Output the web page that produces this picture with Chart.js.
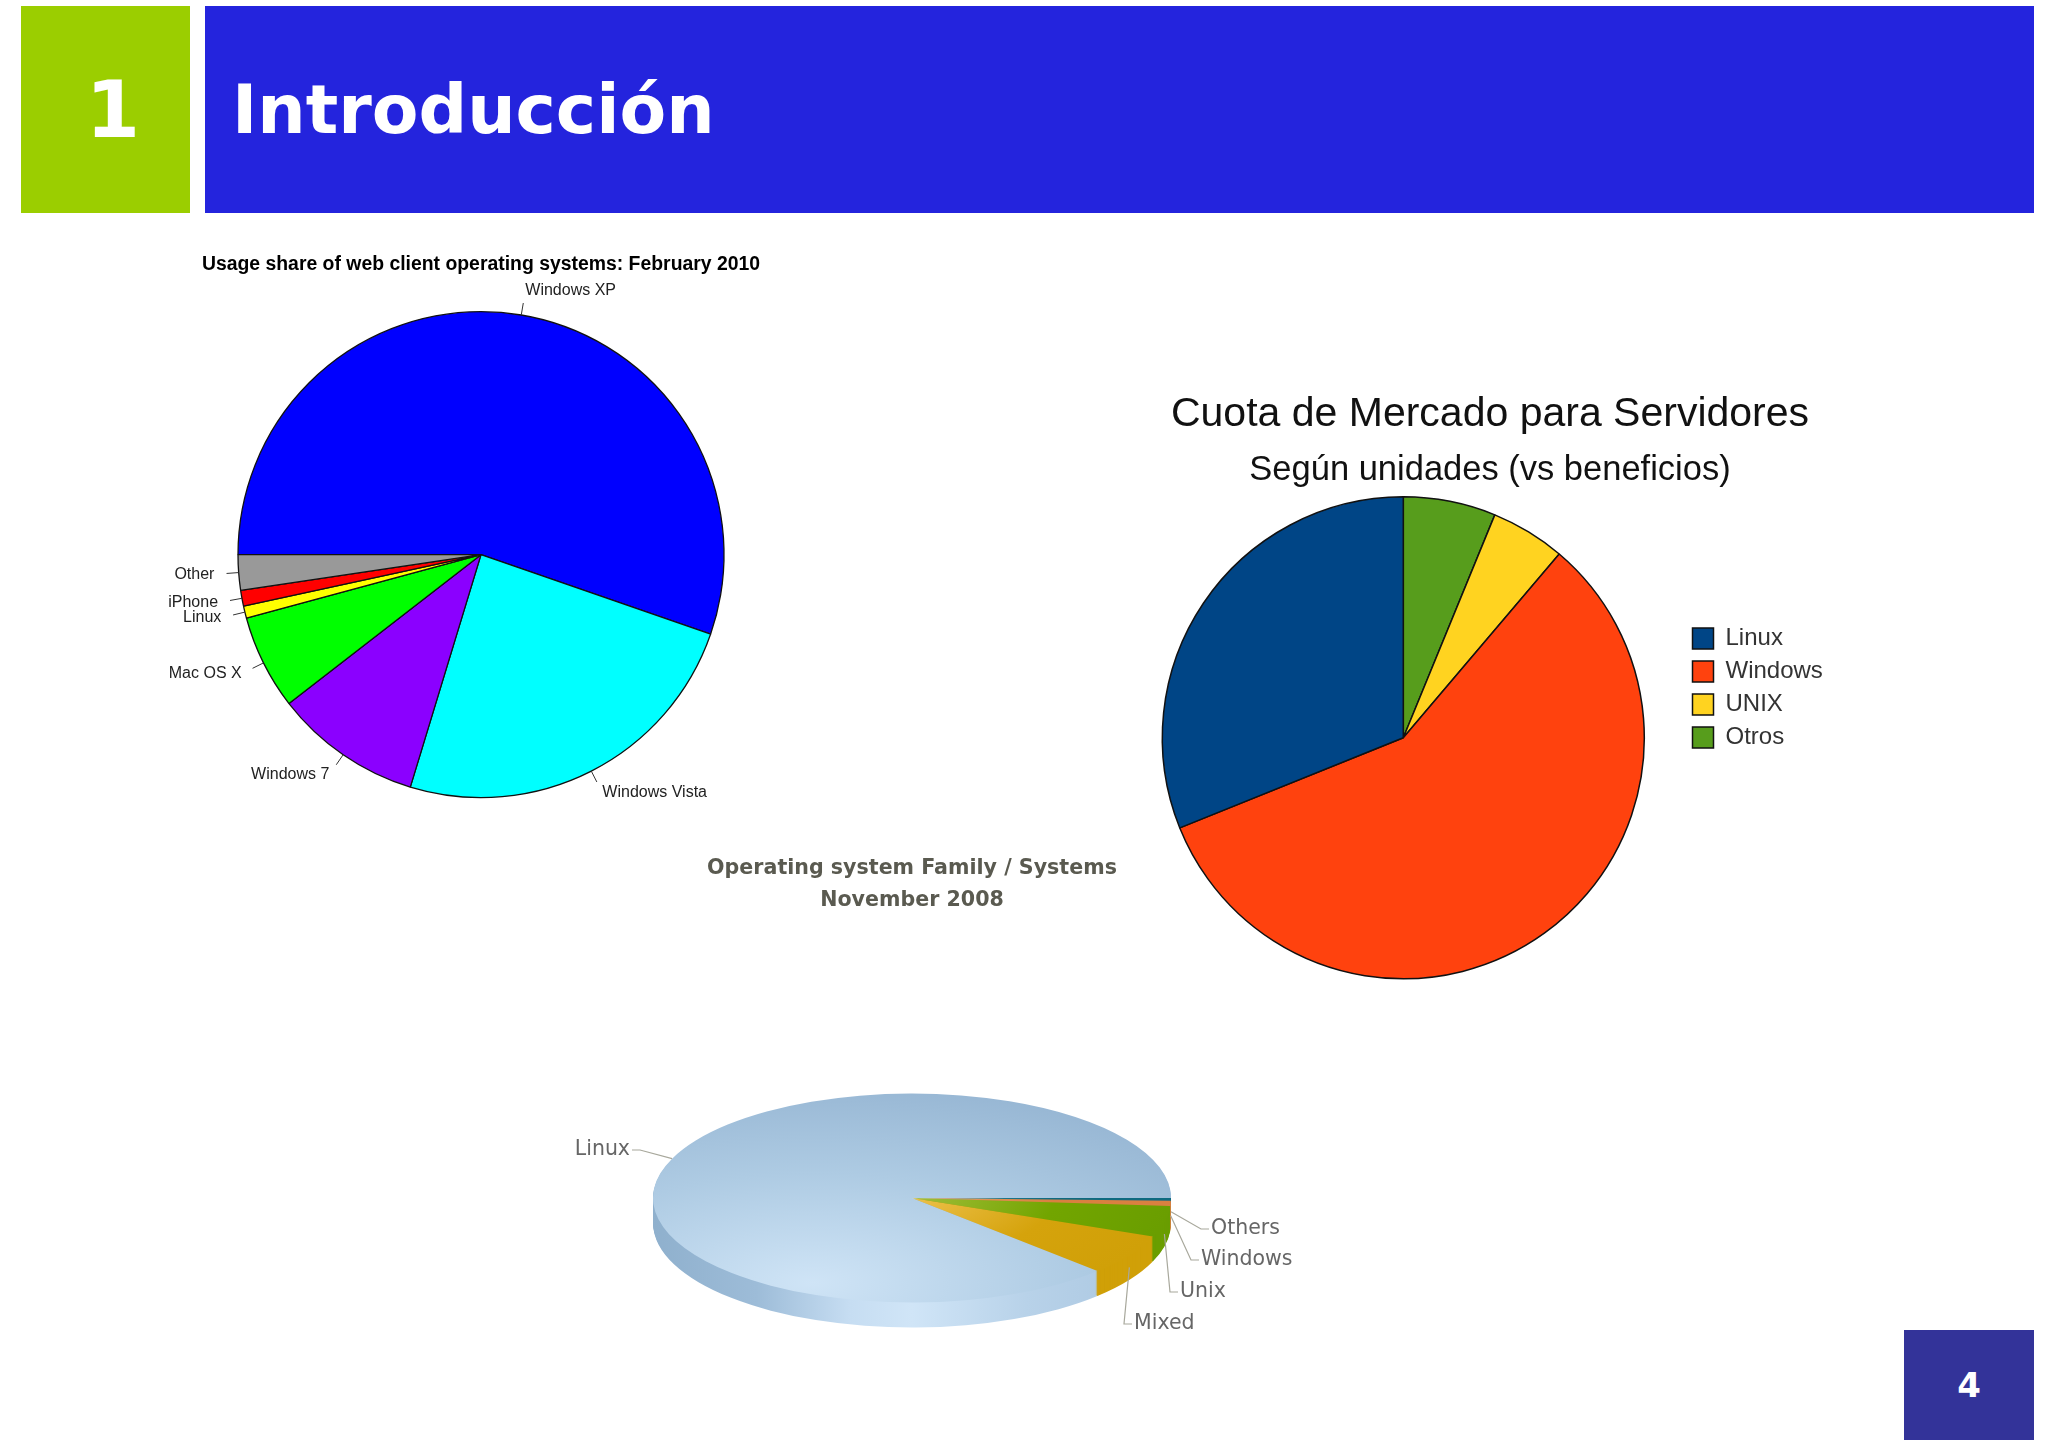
<!DOCTYPE html>
<html lang="es">
<head>
<meta charset="utf-8">
<title>Introducción</title>
<script src="https://cdn.jsdelivr.net/npm/chart.js@4"></script>
<style>
    html, body { margin: 0; padding: 0; background: #fff; overflow: hidden; }
    body { width: 2048px; height: 1447px; position: relative; font-family: "DejaVu Sans", sans-serif; }
    .block { position: absolute; color: #fff; font-weight: bold; display: flex; align-items: center; }
    #num { left: 21px; top: 6px; width: 169px; height: 207px; background: #9bce00; justify-content: center; font-size: 78px; }
    #num span { margin-left: 15px; }
    #band { left: 205px; top: 6px; width: 1829px; height: 207px; background: #2424dd; font-size: 68px; }
    #band span { margin-left: 27px; }
    #page { left: 1904px; top: 1330px; width: 130px; height: 110px; background: #333399; justify-content: center; font-size: 34px; }
    canvas { position: absolute; }
</style>
</head>
<body>
<div class="block" id="num"><span>1</span></div>
<div class="block" id="band"><span>Introducción</span></div>
<div class="block" id="page">4</div>
<canvas id="clients" width="680" height="580" style="left:141px;top:253px"></canvas>
<canvas id="servers" width="780" height="594" style="left:1100px;top:390px"></canvas>
<canvas id="families" width="802" height="487" style="left:511px;top:853px"></canvas>
<script>
// Usage share of web clients, clockwise from 9 o'clock
const clientLabels = ['Windows XP', 'Windows Vista', 'Windows 7', 'Mac OS X', 'Linux', 'iPhone', 'Other'];
const clientValues = [55.3, 24.4, 9.8, 6.3, 0.8, 1.05, 2.35];
const clientColors = ['#0000ff', '#00ffff', '#8b00ff', '#00ff00', '#ffff00', '#ff0000', '#999999'];

// Server market share, clockwise from 12 o'clock (legend shows it reversed)
const serverLabels = ['Otros', 'UNIX', 'Windows', 'Linux'];
const serverValues = [6.2, 5.0, 57.7, 31.1];
const serverColors = ['#579d1c', '#ffd320', '#ff420e', '#004586'];

// Operating system family, clockwise from 3 o'clock
const familyLabels = ['Others', 'Windows', 'Unix', 'Mixed', 'Linux'];
const familyValues = [0.4, 0.8, 4.8, 6.3, 87.7];
const familyInner = ['#3a8a94', '#e6a468', '#a2bd3a', '#ecc04a', '#cfe4f6'];
const familyMid = ['#0f6a80', '#d98040', '#72a500', '#d5a30c', '#aecbe3'];
const familyOuter = ['#0f6a80', '#d98040', '#6a9e00', '#d0a008', '#93b3d1'];

const SANS = '"Liberation Sans", sans-serif';
const SQUASH = 0.4035;
const DEPTH = 25;
// elbow of each leader line relative to the pie centre
const familyElbows = [[289, 31], [279, 62], [258, 94], [212, 126], [-272, -48]];

// labels in the style of R's pie(): tick to 1.05 r, text at 1.1 r
const tickLabels = {
    id: 'tickLabels',
    afterDatasetsDraw(chart) {
        const ctx = chart.ctx;
        ctx.save();
        ctx.font = '16px ' + SANS;
        ctx.fillStyle = '#222';
        ctx.strokeStyle = '#333';
        ctx.lineWidth = 1;
        ctx.textBaseline = 'middle';
        chart.getDatasetMeta(0).data.forEach((arc, i) => {
            const mid = (arc.startAngle + arc.endAngle) / 2;
            const c = Math.cos(mid), s = Math.sin(mid), r = arc.outerRadius;
            ctx.beginPath();
            ctx.moveTo(arc.x + r * c, arc.y + r * s);
            ctx.lineTo(arc.x + 1.05 * r * c, arc.y + 1.05 * r * s);
            ctx.stroke();
            ctx.textAlign = c > 0 ? 'left' : 'right';
            ctx.fillText(clientLabels[i], arc.x + 1.1 * r * c, arc.y + 1.1 * r * s);
        });
        ctx.restore();
    }
};

// moves the pie and the legend of the server chart to where the slide has them
const placeServerBoxes = {
    id: 'placeServerBoxes',
    afterLayout(chart) {
        const a = chart.chartArea, l = chart.legend;
        const w = a.right - a.left;
        a.left = 303.3 - w / 2;
        a.right = 303.3 + w / 2;
        const dx = 592.5 - l.left - l.options.labels.padding;
        const dy = 688 - 390 - (l.top + l.bottom) / 2;
        l.left += dx; l.right += dx; l.top += dy; l.bottom += dy;
    }
};

function faceFill(context) {
    const chart = context.chart, a = chart.chartArea;
    if (!a) return familyMid[context.dataIndex];
    const i = context.dataIndex;
    const cx = (a.left + a.right) / 2, cy = (a.top + a.bottom) / 2;
    if (familyLabels[i] === 'Linux') {
        const g = chart.ctx.createRadialGradient(cx - 100, cy + 210, 0, cx - 100, cy + 210, 540);
        g.addColorStop(0, familyInner[i]);
        g.addColorStop(0.5, familyMid[i]);
        g.addColorStop(1, familyOuter[i]);
        return g;
    }
    const g = chart.ctx.createRadialGradient(cx, cy, 0, cx, cy, 259);
    g.addColorStop(0, familyInner[i]);
    g.addColorStop(0.55, familyMid[i]);
    g.addColorStop(1, familyOuter[i]);
    return g;
}

// fake 3D: squash the pie and stack its wedges below the face
const tiltedPie = {
    id: 'tiltedPie',
    beforeDatasetsDraw(chart) {
        const ctx = chart.ctx;
        const arcs = chart.getDatasetMeta(0).data;
        const x = arcs[0].x, y = arcs[0].y, r = arcs[0].outerRadius;
        const side = ctx.createLinearGradient(-r, 0, r, 0);
        side.addColorStop(0, '#8fb0cd');
        side.addColorStop(0.2, '#9dbcd8');
        side.addColorStop(0.38, '#c6ddf2');
        side.addColorStop(0.5, '#d0e5f7');
        side.addColorStop(0.72, '#b8d2e9');
        side.addColorStop(1, '#a8c5df');
        for (let d = DEPTH; d > 0; d--) {
            ctx.save();
            ctx.translate(x, y + d);
            ctx.scale(1, SQUASH);
            arcs.forEach((arc, i) => {
                ctx.fillStyle = familyLabels[i] === 'Linux' ? side : familyOuter[i];
                ctx.beginPath();
                ctx.moveTo(0, 0);
                ctx.arc(0, 0, r, arc.startAngle, arc.endAngle);
                ctx.closePath();
                ctx.fill();
            });
            ctx.restore();
        }
        ctx.save();
        ctx.translate(x, y);
        ctx.scale(1, SQUASH);
        ctx.translate(-x, -y);
    },
    afterDatasetsDraw(chart) {
        const ctx = chart.ctx;
        ctx.restore();
        const arcs = chart.getDatasetMeta(0).data;
        ctx.save();
        ctx.font = '20.5px "DejaVu Sans", sans-serif';
        ctx.textBaseline = 'middle';
        ctx.lineWidth = 1.2;
        arcs.forEach((arc, i) => {
            const mid = (arc.startAngle + arc.endAngle) / 2;
            const left = Math.cos(mid) < 0;
            const startX = arc.x + arc.outerRadius * Math.cos(mid);
            const startY = arc.y + arc.outerRadius * SQUASH * Math.sin(mid) + (left ? 0 : DEPTH / 2);
            const ex = arc.x + familyElbows[i][0], ey = arc.y + familyElbows[i][1];
            const dir = left ? -1 : 1;
            ctx.strokeStyle = '#a8a89c';
            ctx.beginPath();
            ctx.moveTo(startX, startY);
            ctx.lineTo(ex, ey);
            ctx.lineTo(ex + dir * 8, ey);
            ctx.stroke();
            ctx.fillStyle = '#666';
            ctx.textAlign = left ? 'right' : 'left';
            ctx.fillText(familyLabels[i], ex + dir * 10, ey);
        });
        ctx.restore();
    }
};

new Chart(document.getElementById('clients'), {
    type: 'pie',
    data: {
        labels: clientLabels,
        datasets: [{ data: clientValues, backgroundColor: clientColors, borderColor: '#111', borderWidth: 1.3 }]
    },
    options: {
        responsive: false,
        animation: false,
        rotation: 270,
        radius: 243,
        plugins: {
            legend: { display: false },
            tooltip: { enabled: false },
            title: {
                display: true,
                text: 'Usage share of web client operating systems: February 2010',
                color: '#000',
                font: { family: SANS, size: 19.4, weight: 'bold' },
                padding: 0
            }
        }
    },
    plugins: [tickLabels]
});

new Chart(document.getElementById('servers'), {
    type: 'pie',
    data: {
        labels: serverLabels,
        datasets: [{ data: serverValues, backgroundColor: serverColors, borderColor: '#111', borderWidth: 1.5 }]
    },
    options: {
        responsive: false,
        animation: false,
        radius: 241,
        plugins: {
            tooltip: { enabled: false },
            title: {
                display: true,
                text: 'Cuota de Mercado para Servidores',
                color: '#111',
                font: { family: SANS, size: 41, weight: 'normal' },
                padding: { top: 0, bottom: 11 }
            },
            subtitle: {
                display: true,
                text: 'Según unidades (vs beneficios)',
                color: '#111',
                font: { family: SANS, size: 34.5, weight: 'normal' },
                padding: 0
            },
            legend: {
                position: 'right',
                reverse: true,
                labels: {
                    color: '#333',
                    font: { family: SANS, size: 24 },
                    boxWidth: 21,
                    boxHeight: 21,
                    padding: 9
                }
            }
        }
    },
    plugins: [placeServerBoxes]
});

new Chart(document.getElementById('families'), {
    type: 'pie',
    data: {
        labels: familyLabels,
        datasets: [{ data: familyValues, backgroundColor: faceFill, borderWidth: 0, clip: false }]
    },
    options: {
        responsive: false,
        animation: false,
        rotation: 90,
        radius: 259,
        plugins: {
            legend: { display: false },
            tooltip: { enabled: false },
            title: {
                display: true,
                text: ['Operating system Family / Systems', 'November 2008'],
                color: '#5a5a50',
                font: { family: '"DejaVu Sans", sans-serif', size: 20.6, weight: 'bold', lineHeight: 1.53 },
                padding: { top: 0, bottom: 140 }
            }
        }
    },
    plugins: [tiltedPie]
});
</script>
</body>
</html>
